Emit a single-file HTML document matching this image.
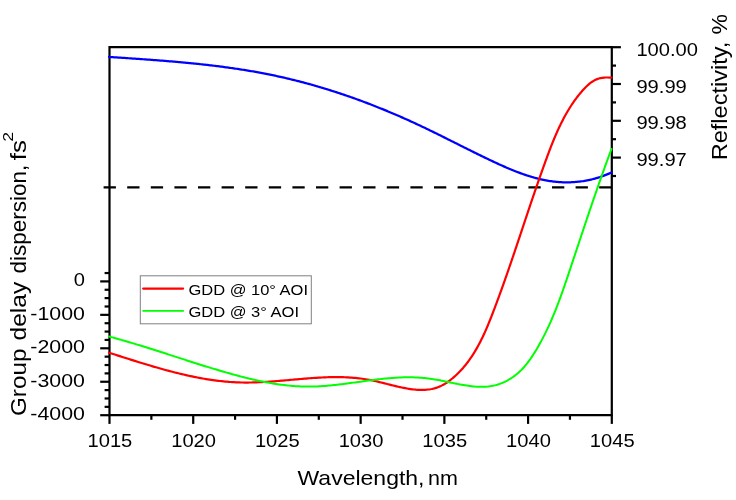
<!DOCTYPE html>
<html><head><meta charset="utf-8"><title>GDD and Reflectivity</title>
<style>html,body{margin:0;padding:0;background:#fff;}svg{display:block;will-change:transform;}text{font-family:"Liberation Sans",sans-serif;fill:#000;}</style></head><body>
<svg width="736" height="500" viewBox="0 0 736 500">
<rect width="736" height="500" fill="#fff"/>
<line x1="103.6" y1="187.4" x2="611.8" y2="187.4" stroke="#000" stroke-width="2.4" stroke-dasharray="12.3 11.3"/>
<g stroke="#000" stroke-width="2.2" fill="none" stroke-linecap="butt">
<path d="M109.5,416.34999999999997 L109.5,47.2 L611.8,47.2 M611.8,46.050000000000004 L611.8,415.2 M108.35,415.2 L612.9499999999999,415.2"/>
<line x1="109.50" y1="415.2" x2="109.50" y2="423.9"/>
<line x1="151.36" y1="415.2" x2="151.36" y2="419.8"/>
<line x1="193.22" y1="415.2" x2="193.22" y2="423.9"/>
<line x1="235.07" y1="415.2" x2="235.07" y2="419.8"/>
<line x1="276.93" y1="415.2" x2="276.93" y2="423.9"/>
<line x1="318.79" y1="415.2" x2="318.79" y2="419.8"/>
<line x1="360.65" y1="415.2" x2="360.65" y2="423.9"/>
<line x1="402.51" y1="415.2" x2="402.51" y2="419.8"/>
<line x1="444.37" y1="415.2" x2="444.37" y2="423.9"/>
<line x1="486.22" y1="415.2" x2="486.22" y2="419.8"/>
<line x1="528.08" y1="415.2" x2="528.08" y2="423.9"/>
<line x1="569.94" y1="415.2" x2="569.94" y2="419.8"/>
<line x1="611.80" y1="415.2" x2="611.80" y2="423.9"/>
<line x1="100.2" y1="281.40" x2="109.5" y2="281.40"/>
<line x1="104.6" y1="289.76" x2="109.5" y2="289.76"/>
<line x1="104.6" y1="298.12" x2="109.5" y2="298.12"/>
<line x1="104.6" y1="306.49" x2="109.5" y2="306.49"/>
<line x1="100.2" y1="314.85" x2="109.5" y2="314.85"/>
<line x1="104.6" y1="323.21" x2="109.5" y2="323.21"/>
<line x1="104.6" y1="331.57" x2="109.5" y2="331.57"/>
<line x1="104.6" y1="339.94" x2="109.5" y2="339.94"/>
<line x1="100.2" y1="348.30" x2="109.5" y2="348.30"/>
<line x1="104.6" y1="356.66" x2="109.5" y2="356.66"/>
<line x1="104.6" y1="365.02" x2="109.5" y2="365.02"/>
<line x1="104.6" y1="373.39" x2="109.5" y2="373.39"/>
<line x1="100.2" y1="381.75" x2="109.5" y2="381.75"/>
<line x1="104.6" y1="390.11" x2="109.5" y2="390.11"/>
<line x1="104.6" y1="398.48" x2="109.5" y2="398.48"/>
<line x1="104.6" y1="406.84" x2="109.5" y2="406.84"/>
<line x1="100.2" y1="415.20" x2="109.5" y2="415.20"/>
<line x1="104.6" y1="273.04" x2="109.5" y2="273.04"/>
<line x1="611.8" y1="47.20" x2="620.9" y2="47.20"/>
<line x1="611.8" y1="65.60" x2="616" y2="65.60"/>
<line x1="611.8" y1="84.00" x2="620.9" y2="84.00"/>
<line x1="611.8" y1="102.40" x2="616" y2="102.40"/>
<line x1="611.8" y1="120.80" x2="620.9" y2="120.80"/>
<line x1="611.8" y1="139.20" x2="616" y2="139.20"/>
<line x1="611.8" y1="157.60" x2="620.9" y2="157.60"/>
<line x1="611.8" y1="176.00" x2="616" y2="176.00"/>
</g>
<path d="M109.00,56.95 L110.31,57.03 L111.62,57.12 L112.93,57.21 L114.24,57.29 L115.54,57.38 L116.85,57.47 L118.16,57.55 L119.48,57.64 L120.79,57.73 L122.10,57.81 L123.41,57.90 L124.72,57.99 L126.03,58.08 L127.34,58.17 L128.66,58.25 L129.97,58.34 L131.28,58.43 L132.59,58.52 L133.91,58.61 L135.22,58.70 L136.53,58.79 L137.85,58.88 L139.16,58.97 L140.47,59.06 L141.79,59.16 L143.10,59.25 L144.42,59.34 L145.73,59.44 L147.04,59.53 L148.36,59.63 L149.67,59.72 L150.99,59.82 L152.30,59.92 L153.62,60.02 L154.93,60.12 L156.25,60.22 L157.56,60.32 L158.88,60.42 L160.19,60.52 L161.51,60.62 L162.82,60.73 L164.14,60.83 L165.46,60.94 L166.77,61.04 L168.09,61.15 L169.40,61.26 L170.72,61.37 L172.03,61.48 L173.35,61.59 L174.66,61.71 L175.98,61.82 L177.29,61.94 L178.61,62.06 L179.92,62.17 L181.24,62.29 L182.55,62.41 L183.87,62.53 L185.18,62.66 L186.49,62.78 L187.81,62.91 L189.12,63.04 L190.44,63.16 L191.75,63.29 L193.06,63.43 L194.38,63.56 L195.69,63.69 L197.00,63.83 L198.32,63.97 L199.63,64.11 L200.94,64.25 L202.26,64.39 L203.57,64.53 L204.88,64.68 L206.19,64.83 L207.50,64.98 L208.81,65.13 L210.12,65.28 L211.43,65.44 L212.75,65.59 L214.06,65.75 L215.37,65.91 L216.67,66.07 L217.98,66.24 L219.29,66.40 L220.60,66.57 L221.91,66.74 L223.22,66.91 L224.52,67.09 L225.83,67.26 L227.14,67.44 L228.45,67.62 L229.75,67.80 L231.06,67.99 L232.36,68.18 L233.67,68.36 L234.97,68.56 L236.28,68.75 L237.58,68.94 L238.88,69.14 L240.19,69.34 L241.49,69.55 L242.79,69.75 L244.09,69.96 L245.39,70.17 L246.69,70.38 L247.99,70.60 L249.29,70.81 L250.59,71.03 L251.89,71.26 L253.19,71.48 L254.49,71.71 L255.78,71.94 L257.08,72.17 L258.37,72.41 L259.67,72.65 L260.96,72.89 L262.26,73.13 L263.55,73.38 L264.84,73.63 L266.14,73.88 L267.43,74.13 L268.72,74.39 L270.01,74.65 L271.30,74.92 L272.59,75.18 L273.88,75.45 L275.17,75.72 L276.45,76.00 L277.74,76.28 L279.03,76.56 L280.31,76.84 L281.60,77.13 L282.88,77.42 L284.16,77.72 L285.45,78.01 L286.73,78.31 L288.01,78.61 L289.29,78.92 L290.57,79.23 L291.85,79.54 L293.13,79.85 L294.41,80.17 L295.68,80.49 L296.96,80.81 L298.23,81.14 L299.51,81.46 L300.78,81.79 L302.06,82.13 L303.33,82.46 L304.60,82.80 L305.87,83.15 L307.14,83.49 L308.41,83.84 L309.68,84.19 L310.95,84.54 L312.22,84.90 L313.49,85.26 L314.75,85.62 L316.02,85.98 L317.28,86.35 L318.55,86.72 L319.81,87.09 L321.07,87.47 L322.33,87.84 L323.59,88.22 L324.85,88.61 L326.11,88.99 L327.37,89.38 L328.63,89.77 L329.89,90.16 L331.14,90.56 L332.40,90.96 L333.65,91.36 L334.91,91.76 L336.16,92.17 L337.41,92.58 L338.66,92.99 L339.91,93.40 L341.16,93.82 L342.41,94.24 L343.66,94.66 L344.91,95.08 L346.16,95.51 L347.40,95.94 L348.65,96.37 L349.89,96.80 L351.13,97.24 L352.38,97.68 L353.62,98.12 L354.86,98.56 L356.10,99.01 L357.34,99.46 L358.57,99.91 L359.81,100.36 L361.05,100.82 L362.28,101.27 L363.52,101.74 L364.75,102.20 L365.98,102.66 L367.22,103.13 L368.45,103.60 L369.68,104.07 L370.91,104.55 L372.14,105.02 L373.36,105.50 L374.59,105.98 L375.82,106.46 L377.04,106.95 L378.26,107.44 L379.49,107.93 L380.71,108.42 L381.93,108.91 L383.15,109.41 L384.37,109.91 L385.59,110.41 L386.81,110.91 L388.02,111.42 L389.24,111.93 L390.45,112.44 L391.67,112.95 L392.88,113.46 L394.09,113.98 L395.30,114.50 L396.51,115.02 L397.72,115.54 L398.93,116.06 L400.14,116.59 L401.34,117.12 L402.55,117.65 L403.75,118.18 L404.96,118.72 L406.16,119.25 L407.36,119.79 L408.56,120.33 L409.76,120.88 L410.96,121.42 L412.16,121.97 L413.35,122.52 L414.55,123.07 L415.74,123.62 L416.94,124.17 L418.13,124.73 L419.32,125.29 L420.51,125.85 L421.70,126.41 L422.89,126.97 L424.08,127.54 L425.26,128.11 L426.45,128.68 L427.63,129.25 L428.82,129.82 L430.00,130.39 L431.19,130.97 L432.37,131.54 L433.55,132.12 L434.73,132.70 L435.91,133.28 L437.09,133.86 L438.27,134.45 L439.45,135.03 L440.63,135.61 L441.81,136.20 L442.99,136.78 L444.17,137.37 L445.34,137.96 L446.52,138.55 L447.70,139.14 L448.88,139.73 L450.05,140.32 L451.23,140.91 L452.41,141.50 L453.59,142.09 L454.77,142.68 L455.95,143.27 L457.12,143.86 L458.30,144.45 L459.48,145.04 L460.66,145.64 L461.84,146.23 L463.02,146.82 L464.20,147.41 L465.38,148.00 L466.57,148.59 L467.75,149.18 L468.93,149.77 L470.11,150.36 L471.30,150.95 L472.48,151.54 L473.67,152.12 L474.86,152.71 L476.05,153.30 L477.23,153.88 L478.42,154.47 L479.61,155.05 L480.81,155.63 L482.00,156.21 L483.19,156.79 L484.39,157.37 L485.59,157.95 L486.78,158.52 L487.98,159.10 L489.18,159.67 L490.38,160.24 L491.59,160.81 L492.79,161.38 L494.00,161.95 L495.20,162.51 L496.41,163.07 L497.62,163.63 L498.84,164.18 L500.05,164.74 L501.26,165.28 L502.48,165.83 L503.70,166.37 L504.92,166.90 L506.14,167.43 L507.36,167.96 L508.58,168.48 L509.81,168.99 L511.03,169.50 L512.26,170.01 L513.49,170.50 L514.72,170.99 L515.95,171.48 L517.19,171.95 L518.42,172.42 L519.66,172.88 L520.90,173.34 L522.14,173.78 L523.38,174.22 L524.62,174.65 L525.87,175.07 L527.11,175.48 L528.36,175.88 L529.61,176.28 L530.86,176.66 L532.11,177.03 L533.37,177.39 L534.62,177.74 L535.88,178.08 L537.14,178.41 L538.40,178.73 L539.66,179.04 L540.92,179.33 L542.19,179.61 L543.46,179.88 L544.73,180.14 L546.00,180.39 L547.27,180.62 L548.54,180.83 L549.82,181.04 L551.09,181.23 L552.37,181.40 L553.65,181.56 L554.93,181.71 L556.22,181.84 L557.50,181.96 L558.79,182.06 L560.08,182.15 L561.37,182.22 L562.66,182.28 L563.95,182.32 L565.24,182.34 L566.53,182.35 L567.82,182.35 L569.12,182.33 L570.41,182.29 L571.71,182.24 L573.00,182.17 L574.30,182.09 L575.60,181.99 L576.89,181.87 L578.19,181.74 L579.48,181.60 L580.78,181.43 L582.07,181.25 L583.37,181.06 L584.66,180.84 L585.95,180.61 L587.24,180.37 L588.53,180.11 L589.82,179.83 L591.11,179.53 L592.40,179.22 L593.69,178.89 L594.97,178.55 L596.26,178.19 L597.54,177.81 L598.82,177.41 L600.10,177.00 L601.37,176.56 L602.65,176.12 L603.92,175.65 L605.19,175.17 L606.46,174.67 L607.72,174.15 L608.99,173.61 L610.25,173.06 L611.50,172.49" fill="none" stroke="#0000ff" stroke-width="2.25" stroke-linejoin="round" stroke-linecap="round"/>
<path d="M109.00,352.70 L110.65,353.23 L112.30,353.75 L113.96,354.28 L115.61,354.81 L117.27,355.34 L118.93,355.87 L120.60,356.40 L122.26,356.93 L123.93,357.46 L125.60,357.99 L127.27,358.52 L128.95,359.05 L130.62,359.58 L132.30,360.11 L133.98,360.64 L135.67,361.17 L137.35,361.69 L139.04,362.22 L140.73,362.74 L142.42,363.26 L144.11,363.77 L145.80,364.29 L147.50,364.80 L149.20,365.31 L150.90,365.82 L152.60,366.32 L154.30,366.82 L156.01,367.31 L157.71,367.80 L159.42,368.29 L161.13,368.77 L162.84,369.25 L164.56,369.72 L166.27,370.19 L167.99,370.65 L169.70,371.11 L171.42,371.56 L173.14,372.01 L174.87,372.45 L176.59,372.88 L178.31,373.30 L180.04,373.72 L181.77,374.14 L183.49,374.54 L185.22,374.94 L186.95,375.33 L188.68,375.71 L190.42,376.08 L192.15,376.45 L193.89,376.81 L195.62,377.16 L197.36,377.50 L199.10,377.83 L200.84,378.15 L202.58,378.46 L204.32,378.76 L206.06,379.05 L207.80,379.34 L209.54,379.61 L211.29,379.87 L213.03,380.12 L214.78,380.36 L216.52,380.59 L218.27,380.80 L220.02,381.01 L221.76,381.20 L223.51,381.38 L225.26,381.55 L227.01,381.71 L228.76,381.85 L230.51,381.98 L232.26,382.10 L234.01,382.20 L235.76,382.29 L237.52,382.37 L239.27,382.43 L241.02,382.48 L242.77,382.51 L244.53,382.53 L246.28,382.54 L248.03,382.54 L249.79,382.52 L251.54,382.49 L253.30,382.45 L255.05,382.40 L256.81,382.34 L258.56,382.27 L260.32,382.19 L262.07,382.11 L263.83,382.01 L265.58,381.91 L267.34,381.80 L269.10,381.68 L270.85,381.56 L272.61,381.43 L274.37,381.29 L276.12,381.16 L277.88,381.01 L279.64,380.87 L281.40,380.72 L283.15,380.56 L284.91,380.41 L286.67,380.25 L288.43,380.09 L290.19,379.93 L291.95,379.77 L293.71,379.61 L295.47,379.46 L297.23,379.30 L298.99,379.14 L300.74,378.99 L302.50,378.84 L304.27,378.69 L306.03,378.55 L307.79,378.41 L309.55,378.27 L311.31,378.14 L313.07,378.01 L314.83,377.90 L316.59,377.78 L318.35,377.68 L320.11,377.58 L321.87,377.49 L323.64,377.41 L325.40,377.34 L327.16,377.27 L328.92,377.22 L330.68,377.18 L332.45,377.14 L334.21,377.12 L335.97,377.12 L337.73,377.12 L339.49,377.14 L341.26,377.17 L343.02,377.21 L344.78,377.27 L346.54,377.34 L348.29,377.43 L350.05,377.53 L351.80,377.65 L353.56,377.79 L355.31,377.94 L357.05,378.11 L358.80,378.30 L360.54,378.51 L362.28,378.74 L364.01,378.98 L365.75,379.25 L367.47,379.53 L369.20,379.84 L370.92,380.17 L372.63,380.51 L374.35,380.88 L376.06,381.26 L377.76,381.66 L379.47,382.07 L381.17,382.49 L382.88,382.91 L384.58,383.34 L386.29,383.78 L387.99,384.21 L389.70,384.65 L391.41,385.08 L393.13,385.51 L394.85,385.93 L396.57,386.35 L398.30,386.75 L400.03,387.13 L401.77,387.51 L403.52,387.86 L405.27,388.20 L407.03,388.51 L408.80,388.80 L410.58,389.06 L412.37,389.30 L414.15,389.50 L415.94,389.66 L417.73,389.78 L419.51,389.87 L421.29,389.90 L423.07,389.89 L424.84,389.83 L426.59,389.71 L428.34,389.53 L430.07,389.29 L431.78,388.98 L433.48,388.61 L435.16,388.16 L436.81,387.64 L438.44,387.05 L440.05,386.37 L441.63,385.62 L443.19,384.81 L444.72,383.93 L446.22,382.99 L447.70,381.99 L449.15,380.96 L450.57,379.88 L451.96,378.76 L453.33,377.61 L454.67,376.44 L455.98,375.24 L457.26,374.03 L458.52,372.79 L459.75,371.54 L460.95,370.26 L462.13,368.97 L463.29,367.66 L464.42,366.32 L465.52,364.98 L466.61,363.61 L467.67,362.23 L468.71,360.83 L469.72,359.42 L470.72,357.99 L471.70,356.54 L472.65,355.08 L473.59,353.61 L474.51,352.13 L475.41,350.63 L476.29,349.12 L477.16,347.60 L478.01,346.06 L478.85,344.52 L479.67,342.97 L480.47,341.40 L481.26,339.83 L482.04,338.25 L482.81,336.65 L483.56,335.06 L484.30,333.45 L485.03,331.84 L485.75,330.22 L486.46,328.59 L487.16,326.96 L487.85,325.32 L488.53,323.68 L489.20,322.04 L489.87,320.39 L490.53,318.74 L491.19,317.08 L491.83,315.43 L492.48,313.77 L493.12,312.11 L493.75,310.45 L494.38,308.79 L495.01,307.13 L495.64,305.47 L496.26,303.81 L496.88,302.15 L497.50,300.49 L498.11,298.82 L498.73,297.16 L499.33,295.50 L499.94,293.84 L500.54,292.18 L501.15,290.52 L501.74,288.86 L502.34,287.20 L502.94,285.53 L503.53,283.87 L504.12,282.21 L504.71,280.55 L505.29,278.89 L505.87,277.23 L506.46,275.56 L507.04,273.90 L507.62,272.24 L508.19,270.58 L508.77,268.91 L509.34,267.25 L509.91,265.59 L510.48,263.93 L511.05,262.26 L511.62,260.60 L512.19,258.94 L512.75,257.27 L513.32,255.61 L513.88,253.95 L514.44,252.28 L515.00,250.62 L515.56,248.96 L516.12,247.29 L516.68,245.63 L517.24,243.97 L517.80,242.30 L518.35,240.64 L518.91,238.97 L519.47,237.31 L520.02,235.65 L520.58,233.98 L521.13,232.32 L521.69,230.65 L522.24,228.99 L522.80,227.32 L523.35,225.66 L523.91,223.99 L524.46,222.33 L525.02,220.66 L525.57,219.00 L526.13,217.33 L526.69,215.67 L527.24,214.00 L527.80,212.34 L528.36,210.67 L528.92,209.01 L529.48,207.34 L530.04,205.68 L530.60,204.01 L531.16,202.35 L531.73,200.68 L532.29,199.01 L532.86,197.35 L533.42,195.68 L533.99,194.02 L534.56,192.35 L535.13,190.68 L535.70,189.02 L536.27,187.35 L536.85,185.69 L537.43,184.02 L538.00,182.35 L538.58,180.69 L539.17,179.02 L539.75,177.35 L540.34,175.69 L540.92,174.02 L541.51,172.35 L542.11,170.69 L542.70,169.02 L543.30,167.35 L543.90,165.68 L544.50,164.02 L545.10,162.35 L545.71,160.68 L546.32,159.02 L546.93,157.35 L547.54,155.68 L548.16,154.02 L548.79,152.35 L549.42,150.69 L550.05,149.03 L550.69,147.38 L551.34,145.72 L551.99,144.07 L552.65,142.42 L553.32,140.78 L553.99,139.14 L554.67,137.50 L555.37,135.87 L556.07,134.24 L556.78,132.62 L557.50,131.01 L558.23,129.40 L558.97,127.80 L559.72,126.20 L560.49,124.61 L561.27,123.03 L562.06,121.46 L562.86,119.89 L563.67,118.34 L564.50,116.79 L565.35,115.25 L566.21,113.72 L567.08,112.21 L567.97,110.70 L568.88,109.20 L569.80,107.71 L570.74,106.24 L571.70,104.77 L572.67,103.32 L573.66,101.88 L574.67,100.45 L575.70,99.04 L576.75,97.63 L577.82,96.25 L578.91,94.87 L580.02,93.51 L581.16,92.17 L582.31,90.84 L583.49,89.52 L584.69,88.23 L585.91,86.97 L587.18,85.75 L588.47,84.58 L589.81,83.47 L591.18,82.43 L592.61,81.47 L594.08,80.59 L595.60,79.81 L597.18,79.13 L598.82,78.56 L600.52,78.12 L602.29,77.81 L604.10,77.61 L605.95,77.51 L607.80,77.51 L609.66,77.57 L611.50,77.70" fill="none" stroke="#ff0000" stroke-width="2.2" stroke-linejoin="round" stroke-linecap="round"/>
<path d="M109.00,336.50 L110.63,336.94 L112.26,337.38 L113.89,337.82 L115.52,338.27 L117.14,338.72 L118.76,339.17 L120.38,339.63 L121.99,340.09 L123.60,340.56 L125.21,341.02 L126.82,341.49 L128.43,341.96 L130.03,342.43 L131.63,342.91 L133.23,343.39 L134.83,343.87 L136.42,344.35 L138.02,344.84 L139.61,345.32 L141.20,345.81 L142.79,346.30 L144.38,346.80 L145.96,347.29 L147.55,347.79 L149.13,348.28 L150.71,348.78 L152.29,349.28 L153.87,349.78 L155.45,350.28 L157.03,350.79 L158.61,351.29 L160.18,351.80 L161.76,352.30 L163.34,352.81 L164.91,353.31 L166.48,353.82 L168.06,354.33 L169.63,354.84 L171.21,355.35 L172.78,355.86 L174.35,356.36 L175.93,356.87 L177.50,357.38 L179.07,357.89 L180.65,358.40 L182.22,358.91 L183.79,359.41 L185.37,359.92 L186.94,360.43 L188.52,360.93 L190.10,361.44 L191.67,361.94 L193.25,362.44 L194.83,362.94 L196.41,363.44 L197.99,363.94 L199.57,364.44 L201.16,364.94 L202.74,365.43 L204.33,365.93 L205.92,366.42 L207.50,366.91 L209.09,367.40 L210.69,367.88 L212.28,368.37 L213.88,368.85 L215.47,369.33 L217.07,369.81 L218.67,370.28 L220.28,370.76 L221.88,371.23 L223.49,371.70 L225.10,372.16 L226.71,372.62 L228.33,373.08 L229.94,373.54 L231.56,373.99 L233.18,374.44 L234.81,374.88 L236.43,375.32 L238.06,375.76 L239.69,376.19 L241.32,376.61 L242.95,377.03 L244.59,377.45 L246.22,377.86 L247.86,378.26 L249.50,378.66 L251.14,379.05 L252.78,379.43 L254.42,379.81 L256.07,380.17 L257.71,380.54 L259.36,380.89 L261.01,381.23 L262.66,381.57 L264.31,381.90 L265.96,382.22 L267.61,382.53 L269.26,382.83 L270.92,383.12 L272.57,383.40 L274.22,383.67 L275.88,383.93 L277.54,384.18 L279.19,384.42 L280.85,384.65 L282.51,384.87 L284.16,385.08 L285.82,385.27 L287.48,385.45 L289.14,385.62 L290.79,385.78 L292.45,385.92 L294.11,386.05 L295.77,386.17 L297.43,386.27 L299.08,386.36 L300.74,386.44 L302.40,386.50 L304.05,386.55 L305.71,386.58 L307.37,386.60 L309.02,386.60 L310.67,386.59 L312.33,386.56 L313.98,386.52 L315.63,386.46 L317.29,386.40 L318.94,386.32 L320.59,386.22 L322.24,386.12 L323.89,386.00 L325.54,385.88 L327.19,385.74 L328.84,385.60 L330.49,385.45 L332.14,385.28 L333.79,385.11 L335.44,384.94 L337.08,384.75 L338.73,384.56 L340.38,384.36 L342.03,384.16 L343.68,383.95 L345.33,383.74 L346.97,383.53 L348.62,383.31 L350.27,383.08 L351.92,382.86 L353.57,382.63 L355.21,382.40 L356.86,382.17 L358.51,381.94 L360.16,381.71 L361.81,381.48 L363.46,381.26 L365.11,381.03 L366.76,380.80 L368.41,380.58 L370.06,380.36 L371.71,380.15 L373.36,379.93 L375.01,379.73 L376.66,379.52 L378.31,379.33 L379.97,379.13 L381.62,378.95 L383.27,378.77 L384.93,378.60 L386.58,378.44 L388.24,378.29 L389.89,378.14 L391.55,378.01 L393.21,377.88 L394.87,377.77 L396.53,377.66 L398.19,377.57 L399.85,377.49 L401.51,377.42 L403.17,377.36 L404.83,377.32 L406.50,377.30 L408.16,377.28 L409.83,377.28 L411.49,377.30 L413.16,377.33 L414.83,377.38 L416.50,377.45 L418.17,377.53 L419.84,377.63 L421.51,377.75 L423.19,377.89 L424.86,378.05 L426.54,378.23 L428.22,378.43 L429.89,378.65 L431.57,378.89 L433.25,379.15 L434.94,379.43 L436.62,379.72 L438.30,380.03 L439.98,380.35 L441.67,380.68 L443.35,381.02 L445.03,381.36 L446.71,381.71 L448.39,382.07 L450.07,382.42 L451.75,382.77 L453.42,383.12 L455.10,383.47 L456.77,383.81 L458.44,384.14 L460.10,384.46 L461.77,384.77 L463.43,385.06 L465.09,385.34 L466.74,385.60 L468.39,385.84 L470.04,386.06 L471.68,386.25 L473.31,386.42 L474.95,386.57 L476.58,386.68 L478.20,386.76 L479.82,386.82 L481.43,386.83 L483.03,386.81 L484.64,386.75 L486.23,386.66 L487.82,386.52 L489.40,386.33 L490.97,386.10 L492.54,385.82 L494.10,385.50 L495.65,385.12 L497.19,384.69 L498.73,384.21 L500.25,383.67 L501.76,383.09 L503.26,382.46 L504.74,381.79 L506.21,381.07 L507.66,380.30 L509.09,379.49 L510.50,378.64 L511.89,377.74 L513.25,376.81 L514.59,375.83 L515.91,374.82 L517.20,373.76 L518.46,372.68 L519.69,371.55 L520.89,370.39 L522.06,369.20 L523.21,367.98 L524.33,366.73 L525.42,365.45 L526.49,364.15 L527.53,362.82 L528.56,361.47 L529.56,360.11 L530.54,358.72 L531.50,357.32 L532.44,355.91 L533.37,354.48 L534.28,353.05 L535.18,351.60 L536.06,350.15 L536.93,348.70 L537.78,347.24 L538.63,345.78 L539.46,344.31 L540.28,342.84 L541.08,341.36 L541.88,339.88 L542.67,338.39 L543.44,336.91 L544.20,335.41 L544.96,333.92 L545.70,332.42 L546.43,330.91 L547.15,329.41 L547.87,327.90 L548.57,326.38 L549.26,324.86 L549.95,323.34 L550.63,321.82 L551.30,320.29 L551.96,318.76 L552.61,317.23 L553.26,315.69 L553.89,314.16 L554.52,312.62 L555.15,311.07 L555.77,309.53 L556.38,307.98 L556.98,306.43 L557.58,304.88 L558.17,303.32 L558.76,301.76 L559.34,300.20 L559.92,298.64 L560.49,297.08 L561.06,295.52 L561.62,293.95 L562.18,292.38 L562.74,290.82 L563.29,289.25 L563.84,287.67 L564.39,286.10 L564.93,284.53 L565.47,282.95 L566.01,281.38 L566.54,279.80 L567.08,278.22 L567.61,276.65 L568.14,275.07 L568.67,273.49 L569.20,271.91 L569.73,270.33 L570.26,268.75 L570.79,267.17 L571.32,265.59 L571.84,264.01 L572.37,262.43 L572.90,260.85 L573.42,259.27 L573.95,257.68 L574.48,256.10 L575.00,254.52 L575.53,252.94 L576.06,251.36 L576.58,249.78 L577.11,248.19 L577.63,246.61 L578.16,245.03 L578.69,243.45 L579.21,241.87 L579.74,240.28 L580.27,238.70 L580.79,237.12 L581.32,235.54 L581.85,233.96 L582.38,232.37 L582.91,230.79 L583.43,229.21 L583.96,227.63 L584.49,226.05 L585.02,224.47 L585.55,222.88 L586.08,221.30 L586.61,219.72 L587.15,218.14 L587.68,216.56 L588.21,214.98 L588.74,213.40 L589.28,211.82 L589.81,210.24 L590.35,208.66 L590.88,207.08 L591.42,205.51 L591.96,203.93 L592.50,202.35 L593.04,200.77 L593.58,199.20 L594.12,197.62 L594.66,196.04 L595.20,194.47 L595.75,192.89 L596.29,191.32 L596.84,189.74 L597.39,188.17 L597.93,186.59 L598.48,185.02 L599.03,183.45 L599.59,181.87 L600.14,180.30 L600.69,178.73 L601.25,177.16 L601.81,175.59 L602.36,174.02 L602.92,172.45 L603.48,170.88 L604.05,169.32 L604.61,167.75 L605.17,166.18 L605.74,164.62 L606.31,163.05 L606.88,161.49 L607.45,159.92 L608.02,158.36 L608.60,156.80 L609.17,155.24 L609.75,153.68 L610.33,152.12 L610.91,150.56 L611.49,149.00" fill="none" stroke="#00ff00" stroke-width="2.0" stroke-linejoin="round" stroke-linecap="round"/>
<text x="109.90" y="447.2" font-size="19" text-anchor="middle" textLength="44.8" lengthAdjust="spacingAndGlyphs">1015</text>
<text x="193.62" y="447.2" font-size="19" text-anchor="middle" textLength="44.8" lengthAdjust="spacingAndGlyphs">1020</text>
<text x="277.33" y="447.2" font-size="19" text-anchor="middle" textLength="44.8" lengthAdjust="spacingAndGlyphs">1025</text>
<text x="361.05" y="447.2" font-size="19" text-anchor="middle" textLength="44.8" lengthAdjust="spacingAndGlyphs">1030</text>
<text x="444.77" y="447.2" font-size="19" text-anchor="middle" textLength="44.8" lengthAdjust="spacingAndGlyphs">1035</text>
<text x="528.48" y="447.2" font-size="19" text-anchor="middle" textLength="44.8" lengthAdjust="spacingAndGlyphs">1040</text>
<text x="612.20" y="447.2" font-size="19" text-anchor="middle" textLength="44.8" lengthAdjust="spacingAndGlyphs">1045</text>
<text x="84.9" y="286.40" font-size="19" text-anchor="end" textLength="11.2" lengthAdjust="spacingAndGlyphs">0</text>
<text x="84.9" y="319.85" font-size="19" text-anchor="end" textLength="54.6" lengthAdjust="spacingAndGlyphs">-1000</text>
<text x="84.9" y="353.30" font-size="19" text-anchor="end" textLength="54.6" lengthAdjust="spacingAndGlyphs">-2000</text>
<text x="84.9" y="386.75" font-size="19" text-anchor="end" textLength="54.6" lengthAdjust="spacingAndGlyphs">-3000</text>
<text x="84.9" y="420.20" font-size="19" text-anchor="end" textLength="54.6" lengthAdjust="spacingAndGlyphs">-4000</text>
<text x="636.4" y="55.70" font-size="19" textLength="61.6" lengthAdjust="spacingAndGlyphs">100.00</text>
<text x="636.4" y="92.50" font-size="19" textLength="50.4" lengthAdjust="spacingAndGlyphs">99.99</text>
<text x="636.4" y="129.30" font-size="19" textLength="50.4" lengthAdjust="spacingAndGlyphs">99.98</text>
<text x="636.4" y="166.10" font-size="19" textLength="50.4" lengthAdjust="spacingAndGlyphs">99.97</text>
<g transform="translate(0,485.4)"><text x="297.5" y="0" font-size="21" textLength="127.0" lengthAdjust="spacingAndGlyphs">Wavelength,</text><text x="428.1" y="0" font-size="21" textLength="29.9" lengthAdjust="spacingAndGlyphs">nm</text></g>
<g transform="translate(25.6,415.8) rotate(-90)"><text x="-0.2" y="0" font-size="22" textLength="67.4" lengthAdjust="spacingAndGlyphs">Group</text><text x="75.3" y="0" font-size="22" textLength="58.7" lengthAdjust="spacingAndGlyphs">delay</text><text x="142.2" y="0" font-size="22" textLength="108.8" lengthAdjust="spacingAndGlyphs">dispersion,</text><text x="255.5" y="0" font-size="22" textLength="20.2" lengthAdjust="spacingAndGlyphs">fs</text><text x="274" y="-12.6" font-size="15.5" textLength="9.8" lengthAdjust="spacingAndGlyphs">2</text></g>
<g transform="translate(727.2,160.8) rotate(-90)"><text x="0.5" y="0" font-size="22" textLength="118.7" lengthAdjust="spacingAndGlyphs">Reflectivity,</text><text x="126.4" y="0" font-size="22" textLength="20.4" lengthAdjust="spacingAndGlyphs">%</text></g>
<rect x="140.3" y="275.8" width="171" height="48" fill="#fff" stroke="#808080" stroke-width="1"/>
<line x1="143.2" y1="288.6" x2="183.1" y2="288.6" stroke="#ff0000" stroke-width="2.2" stroke-linecap="round"/>
<line x1="143.2" y1="310.9" x2="183.1" y2="310.9" stroke="#00ff00" stroke-width="1.9" stroke-linecap="round"/>
<text x="188.4" y="295.1" font-size="15.4" textLength="119.6" lengthAdjust="spacingAndGlyphs">GDD @ 10° AOI</text>
<text x="188.4" y="317.4" font-size="15.4" textLength="110.6" lengthAdjust="spacingAndGlyphs">GDD @ 3° AOI</text>
</svg></body></html>
